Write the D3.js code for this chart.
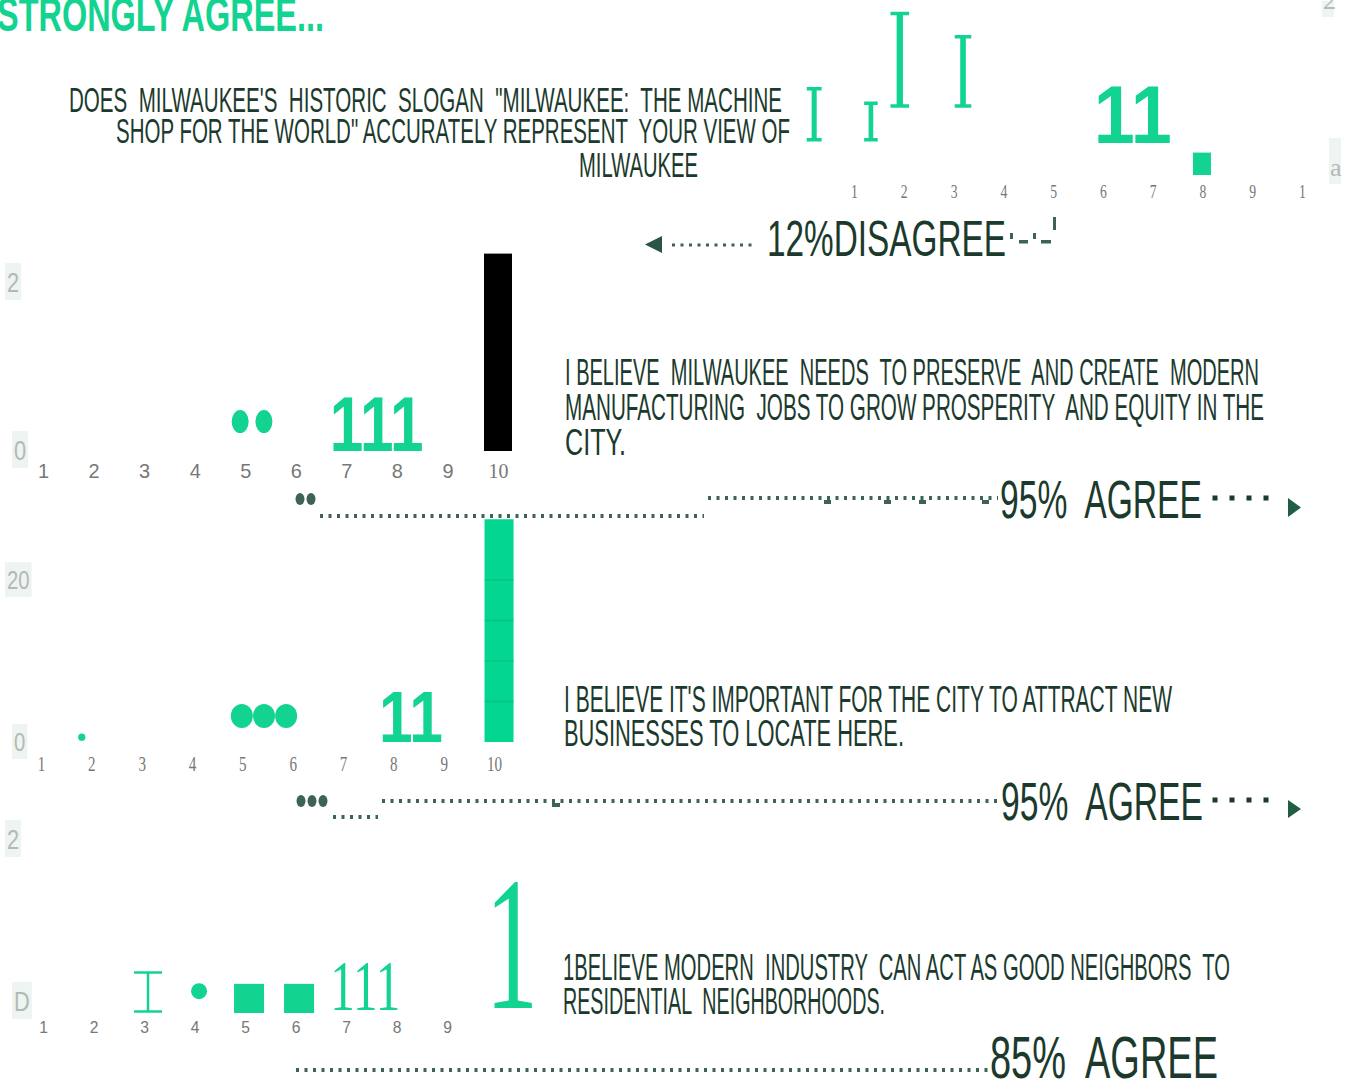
<!DOCTYPE html>
<html>
<head>
<meta charset="utf-8">
<script src="https://cdn.jsdelivr.net/npm/d3@7"></script>
<style>
  html, body { margin: 0; padding: 0; background: #fff; overflow: hidden; }
  svg { display: block; }
  svg text { white-space: pre; }
</style>
</head>
<body>
<div id="chart"></div>
<script>
// ========================================
// DATA
// ========================================
const title = 'STRONGLY AGREE...';

const questions = [
    ['DOES  MILWAUKEE\'S  HISTORIC  SLOGAN  "MILWAUKEE:  THE MACHINE',
     'SHOP FOR THE WORLD" ACCURATELY REPRESENT  YOUR VIEW OF',
     'MILWAUKEE'],
    ['I BELIEVE  MILWAUKEE  NEEDS  TO PRESERVE  AND CREATE  MODERN',
     'MANUFACTURING  JOBS TO GROW PROSPERITY  AND EQUITY IN THE',
     'CITY.'],
    ['I BELIEVE IT\'S IMPORTANT FOR THE CITY TO ATTRACT NEW',
     'BUSINESSES TO LOCATE HERE.'],
    ['1BELIEVE MODERN  INDUSTRY  CAN ACT AS GOOD NEIGHBORS  TO',
     'RESIDENTIAL  NEIGHBORHOODS.']
];

const verdicts = ['12%DISAGREE', '95%  AGREE', '95%  AGREE', '85%  AGREE'];

// scale positions on each small histogram
const ticks10 = [1, 2, 3, 4, 5, 6, 7, 8, 9, 10];
const ticks9 = [1, 2, 3, 4, 5, 6, 7, 8, 9];
const panel1TickLabels = ['1', '2', '3', '4', '5', '6', '7', '8', '9', '1'];
const panel2TickLabels = ['1', '2', '3', '4', '5', '6', '7', '8', '9', '10'];
const panel3TickLabels = ['1', '2', '3', '4', '5', '6', '7', '8', '9', '10'];
const panel4TickLabels = ['1', '2', '3', '4', '5', '6', '7', '8', '9'];

const panel2YTicks = [0, 2];
const panel2YLabels = ['0', '2'];
const panel3YTicks = [0, 20];
const panel3YLabels = ['0', '20'];
const panel4YTicks = [0, 2];
const panel4YLabels = ['D', '2'];

// panel 1 glyphs (x = scale position, lo/hi/v = value)
const panel1Beams = [
    { x: 0.2, lo: 2.1, hi: 5.5 },
    { x: 1.34, lo: 2.1, hi: 4.6 },
    { x: 1.92, lo: 4.2, hi: 10.2 },
    { x: 3.19, lo: 4.2, hi: 8.75 }
];
const panel1Numerals = [{ x: 6.6, v: 2.0, label: '11' }];
const panel1Blocks = [{ x: 7.99, v: 1.4 }];

// panel 2
const panel2Dots = [{ x: 4.9, v: 0.35 }, { x: 5.37, v: 0.35 }];
const panel2Numerals = [{ x: 7.6, v: 0, label: '111' }];
const panel2Bars = [{ x: 10, v: 2.35 }];

// panel 3
const panel3Pips = [{ x: 1.81, v: 0.6 }];
const panel3Dots = [{ x: 4.99, v: 3.2 }, { x: 5.43, v: 3.2 }, { x: 5.87, v: 3.2 }];
const panel3Numerals = [{ x: 8.35, v: 0, label: '11' }];
const panel3Bars = [{ x: 10.1, v: 27.5 }];
const panel3Grid = [5, 10, 15, 20];

// panel 4
const panel4Beams = [{ x: 3.08, lo: 0.02, hi: 0.5 }];
const panel4Dots = [{ x: 4.09, v: 0.27 }];
const panel4Blocks = [{ x: 5.08, v: 0.36 }, { x: 6.07, v: 0.36 }];
const panel4Numerals = [{ x: 7.38, v: 0.04, label: '111' }];
const panel4BigNumerals = [{ x: 10.27, v: 0.06, label: '1' }];

// ========================================
// STYLE
// ========================================
const GREEN = '#13d391';
const BAR_GREEN = '#02d690';
const DARK = '#1b3a2d';
const DOT = '#3d6353';
const TICK = '#777';
const PALE = '#b3b9b6';
const PALE_BG = '#edf4f1';
const NARROW = '"Liberation Sans Narrow", "Arial Narrow", "Liberation Sans", Arial, sans-serif';
const SANS = '"Liberation Sans", Arial, sans-serif';
const SERIF = '"Liberation Serif", "Times New Roman", serif';

const W = 1351, H = 1079;

const svg = d3.select('#chart').append('svg')
    .attr('width', W).attr('height', H);

// narrow text fitted to a given width
function fitText(g, str, x, y, len, size, color, opts = {}) {
    return g.append('text')
        .attr('x', x).attr('y', y)
        .attr('textLength', len)
        .attr('lengthAdjust', 'spacingAndGlyphs')
        .attr('font-family', opts.family || NARROW)
        .attr('font-weight', opts.weight || 'normal')
        .attr('font-size', size)
        .attr('fill', color)
        .text(str);
}

function beamPath(cx, yTop, yBot, w) {
    const sw = Math.max(3, w * 0.34), st = 3.5;
    const side = (w - sw) / 2, stem = yBot - yTop - 2 * st;
    return `M${cx - w / 2},${yTop} h${w} v${st} h${-side} v${stem} h${side} v${st} h${-w} v${-st} h${side} v${-stem} h${-side} Z`;
}

function drawXAxis(g, x, ticks, labels, baseline, family, size, squeeze) {
    const ax = g.append('g')
        .attr('transform', `translate(0,${baseline})`)
        .call(d3.axisBottom(x).tickValues(ticks).tickSize(0)
            .tickFormat((d, i) => labels[i]));
    ax.select('.domain').remove();
    ax.selectAll('text')
        .attr('y', 0).attr('dy', 0)
        .attr('fill', TICK)
        .attr('font-size', size)
        .attr('font-family', d => (typeof family === 'function' ? family(d) : family))
        .attr('transform', `scale(${squeeze},1)`);
    return ax;
}

function drawYLabels(g, y, ticks, labels, offset, size) {
    const ax = g.append('g')
        .call(d3.axisLeft(y).tickValues(ticks).tickSize(0)
            .tickFormat((d, i) => labels[i]));
    ax.select('.domain').remove();
    ax.selectAll('.tick').each(function (d, i) {
        const t = d3.select(this).select('text');
        t.attr('x', i === 0 ? 18 : 9).attr('dy', 0).attr('y', offset)
            .attr('text-anchor', 'start')
            .attr('font-family', SANS)
            .attr('font-size', size)
            .attr('fill', PALE)
            .attr('transform', 'scale(0.78,1)');
    });
    // pale tag behind each label
    ax.selectAll('.tick').each(function () {
        const t = d3.select(this).select('text');
        const bb = t.node().getBBox();
        d3.select(this).insert('rect', 'text')
            .attr('x', bb.x * 0.78 - 2).attr('y', bb.y - 3)
            .attr('width', bb.width * 0.78 + 4).attr('height', bb.height + 6)
            .attr('fill', PALE_BG);
    });
}

function dotted(g, x1, x2, y, w = 4) {
    g.append('line')
        .attr('x1', x1).attr('x2', x2).attr('y1', y).attr('y2', y)
        .attr('stroke', DOT).attr('stroke-width', w)
        .attr('stroke-dasharray', '3 5.5');
}

// ========================================
// TITLE
// ========================================
fitText(svg, title, -3, 31, 327, 48, GREEN, { weight: 'bold' });

// pale scraps on the right edge
[{ t: '2', x: 1323, y: 9, h: 16 }, { t: 'a', x: 1330, y: 176, h: 46 }].forEach(s => {
    svg.append('rect').attr('x', s.x - 1).attr('y', s.y - s.h + 8)
        .attr('width', 12).attr('height', s.h).attr('fill', PALE_BG);
    svg.append('text').attr('x', s.x).attr('y', s.y)
        .attr('font-family', SERIF).attr('font-size', 26).attr('fill', PALE)
        .text(s.t);
});

// ========================================
// PANEL 1
// ========================================
{
    const g = svg.append('g');
    const x = d3.scaleLinear().domain([1, 10]).range([854, 1302]);
    const y = d3.scaleLinear().domain([0, 10]).range([175, 15]);

    drawXAxis(g, x, ticks10, panel1TickLabels, 198, SERIF, 19, 0.72);

    g.selectAll('.beam').data(panel1Beams).enter()
        .append('path')
        .attr('fill', GREEN)
        .attr('d', d => {
            const h = y(d.lo) - y(d.hi);
            return beamPath(x(d.x), y(d.hi), y(d.lo), 10 + h * 0.09);
        });

    g.selectAll('.num').data(panel1Numerals).enter()
        .append('text')
        .attr('x', d => x(d.x) - 39).attr('y', d => y(d.v))
        .attr('textLength', 78).attr('lengthAdjust', 'spacingAndGlyphs')
        .attr('font-family', SANS).attr('font-weight', 'bold')
        .attr('font-size', 81).attr('fill', GREEN)
        .text(d => d.label);

    g.selectAll('.block').data(panel1Blocks).enter()
        .append('rect')
        .attr('x', d => x(d.x) - 9).attr('width', 18)
        .attr('y', d => y(d.v)).attr('height', d => y(0) - y(d.v))
        .attr('fill', GREEN);

    questions[0].forEach((line, i) => {
        const pos = [[69, 112, 713], [116, 143, 674], [579, 177, 119]][i];
        fitText(g, line, pos[0], pos[1], pos[2], 35, DARK);
    });

    // verdict with leader pointing left
    g.append('path').attr('d', 'M662,236 L662,253 L645,244.5 Z').attr('fill', '#2b5443');
    dotted(g, 672, 754, 245, 3);
    fitText(g, verdicts[0], 767, 256, 239, 50, DARK);
    // trailing ·-·-' scraps
    [[1010, 233, 3, 6], [1019, 240, 9, 3.5], [1033, 233, 3, 6], [1041, 240, 10, 3.5], [1053, 217, 3, 13]]
        .forEach(r => g.append('rect')
            .attr('x', r[0]).attr('y', r[1]).attr('width', r[2]).attr('height', r[3])
            .attr('fill', DOT));
}

// ========================================
// PANEL 2
// ========================================
{
    const g = svg.append('g');
    const x = d3.scaleLinear().domain([1, 10]).range([43, 498]);
    const y = d3.scaleLinear().domain([0, 2]).range([451, 283]);

    drawXAxis(g, x, ticks10, panel2TickLabels, 478,
        d => (d === 10 ? SERIF : SANS), 21, 0.95);
    drawYLabels(g, y, panel2YTicks, panel2YLabels, 8, 28);

    g.selectAll('.bar').data(panel2Bars).enter()
        .append('rect')
        .attr('x', d => x(d.x) - 14).attr('width', 28)
        .attr('y', d => y(d.v)).attr('height', d => y(0) - y(d.v))
        .attr('fill', '#000');

    g.selectAll('.dot').data(panel2Dots).enter()
        .append('ellipse')
        .attr('cx', d => x(d.x)).attr('cy', d => y(d.v))
        .attr('rx', 8.5).attr('ry', 11.5)
        .attr('fill', GREEN);

    g.selectAll('.num').data(panel2Numerals).enter()
        .append('text')
        .attr('x', d => x(d.x) - 47).attr('y', d => y(d.v))
        .attr('textLength', 94).attr('lengthAdjust', 'spacingAndGlyphs')
        .attr('font-family', SANS).attr('font-weight', 'bold')
        .attr('font-size', 78).attr('fill', GREEN)
        .text(d => d.label);

    questions[1].forEach((line, i) => {
        const pos = [[565, 385, 694], [565, 420, 699], [565, 455, 61]][i];
        fitText(g, line, pos[0], pos[1], pos[2], 36, DARK);
    });

    // leader
    [300, 311].forEach(cx => g.append('ellipse')
        .attr('cx', cx).attr('cy', 499).attr('rx', 4.5).attr('ry', 6).attr('fill', DOT));
    dotted(g, 320, 704, 516);
    dotted(g, 708, 998, 498);
    [827, 887, 922, 985].forEach(dx => g.append('rect')
        .attr('x', dx - 3).attr('y', 500).attr('width', 7).attr('height', 4).attr('fill', DOT));
    fitText(g, verdicts[1], 1000, 518, 202, 53, DARK);
    [1215, 1232, 1249, 1266].forEach(dx => g.append('rect')
        .attr('x', dx - 2.5).attr('y', 495.5).attr('width', 5).attr('height', 5).attr('fill', DARK));
    g.append('path').attr('d', 'M1288,498 L1288,517 L1301,507.5 Z').attr('fill', '#1f5e45');
}

// ========================================
// PANEL 3
// ========================================
{
    const g = svg.append('g');
    const x = d3.scaleLinear().domain([1, 10]).range([41, 494]);
    const y = d3.scaleLinear().domain([0, 20]).range([742, 580]);

    drawXAxis(g, x, ticks10, panel3TickLabels, 771, SERIF, 21, 0.72);
    drawYLabels(g, y, panel3YTicks, panel3YLabels, 8, 26);

    const bars = g.selectAll('.bar').data(panel3Bars).enter();
    bars.append('rect')
        .attr('x', d => x(d.x) - 14.5).attr('width', 29)
        .attr('y', d => y(d.v)).attr('height', d => y(0) - y(d.v))
        .attr('fill', BAR_GREEN);
    panel3Bars.forEach(b => {
        g.selectAll(null).data(panel3Grid.filter(v => v < b.v)).enter()
            .append('line')
            .attr('x1', x(b.x) - 14.5).attr('x2', x(b.x) + 14.5)
            .attr('y1', d => y(d)).attr('y2', d => y(d))
            .attr('stroke', '#0bb77c').attr('stroke-opacity', 0.55).attr('stroke-width', 1.5);
    });

    g.selectAll('.pip').data(panel3Pips).enter()
        .append('circle')
        .attr('cx', d => x(d.x)).attr('cy', d => y(d.v)).attr('r', 3.6)
        .attr('fill', GREEN);

    g.selectAll('.dot').data(panel3Dots).enter()
        .append('ellipse')
        .attr('cx', d => x(d.x)).attr('cy', d => y(d.v))
        .attr('rx', 11).attr('ry', 12)
        .attr('fill', GREEN);

    g.selectAll('.num').data(panel3Numerals).enter()
        .append('text')
        .attr('x', d => x(d.x) - 32).attr('y', d => y(d.v))
        .attr('textLength', 64).attr('lengthAdjust', 'spacingAndGlyphs')
        .attr('font-family', SANS).attr('font-weight', 'bold')
        .attr('font-size', 73).attr('fill', GREEN)
        .text(d => d.label);

    questions[2].forEach((line, i) => {
        const pos = [[564, 712, 608], [564, 746, 340]][i];
        fitText(g, line, pos[0], pos[1], pos[2], 36, DARK);
    });

    // leader
    [301, 312, 323].forEach(cx => g.append('ellipse')
        .attr('cx', cx).attr('cy', 801).attr('rx', 4.5).attr('ry', 6).attr('fill', DOT));
    dotted(g, 333, 378, 817);
    dotted(g, 382, 998, 801);
    g.append('rect').attr('x', 552).attr('y', 803).attr('width', 8).attr('height', 4).attr('fill', DOT);
    fitText(g, verdicts[2], 1001, 820, 202, 53, DARK);
    [1215, 1232, 1249, 1266].forEach(dx => g.append('rect')
        .attr('x', dx - 2.5).attr('y', 797.5).attr('width', 5).attr('height', 5).attr('fill', DARK));
    g.append('path').attr('d', 'M1288,800 L1288,818 L1301,809 Z').attr('fill', '#1f5e45');
}

// ========================================
// PANEL 4
// ========================================
{
    const g = svg.append('g');
    const x = d3.scaleLinear().domain([1, 9]).range([43, 447]);
    const y = d3.scaleLinear().domain([0, 2]).range([1013, 851]);

    drawXAxis(g, x, ticks9, panel4TickLabels, 1033, SANS, 17, 0.92);
    drawYLabels(g, y, panel4YTicks, panel4YLabels, -3, 28);

    g.selectAll('.beam').data(panel4Beams).enter()
        .append('path')
        .attr('fill', 'none').attr('stroke', GREEN).attr('stroke-width', 2.5)
        .attr('d', d => {
            const cx = x(d.x), t = y(d.hi), b = y(d.lo);
            return `M${cx - 14},${t} H${cx + 14} M${cx},${t} V${b} M${cx - 14},${b} H${cx + 14}`;
        });

    g.selectAll('.dot').data(panel4Dots).enter()
        .append('circle')
        .attr('cx', d => x(d.x)).attr('cy', d => y(d.v)).attr('r', 8)
        .attr('fill', GREEN);

    g.selectAll('.block').data(panel4Blocks).enter()
        .append('rect')
        .attr('x', d => x(d.x) - 15).attr('width', 30)
        .attr('y', d => y(d.v)).attr('height', d => y(0) - y(d.v))
        .attr('fill', GREEN);

    g.selectAll('.num').data(panel4Numerals).enter()
        .append('text')
        .attr('x', d => x(d.x) - 35).attr('y', d => y(d.v))
        .attr('textLength', 70).attr('lengthAdjust', 'spacingAndGlyphs')
        .attr('font-family', SERIF)
        .attr('font-size', 71).attr('fill', GREEN)
        .text(d => d.label);

    g.selectAll('.big').data(panel4BigNumerals).enter()
        .append('text')
        .attr('x', d => x(d.x) - 26).attr('y', d => y(d.v))
        .attr('textLength', 53).attr('lengthAdjust', 'spacingAndGlyphs')
        .attr('font-family', SERIF)
        .attr('font-size', 190).attr('fill', GREEN)
        .text(d => d.label);

    questions[3].forEach((line, i) => {
        const pos = [[563, 980, 667], [563, 1014, 322]][i];
        fitText(g, line, pos[0], pos[1], pos[2], 36, DARK);
    });

    dotted(g, 296, 990, 1070);
    fitText(g, verdicts[3], 990, 1078, 228, 59, DARK);
}
</script>
</body>
</html>
